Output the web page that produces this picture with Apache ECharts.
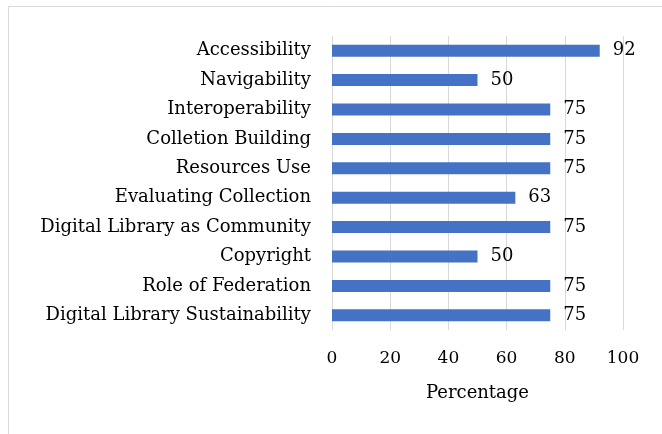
<!DOCTYPE html>
<html><head><meta charset="utf-8">
<script src="https://cdn.jsdelivr.net/npm/echarts@6/dist/echarts.min.js"></script>
<style>html,body{margin:0;padding:0;background:#fff}#c{width:662px;height:434px}</style>
</head><body><div id="c"></div>
<script>
const categories = ["Accessibility","Navigability","Interoperability","Colletion Building","Resources Use","Evaluating Collection","Digital Library as Community","Copyright","Role of Federation","Digital Library Sustainability"];
const values = [92,50,75,75,75,63,75,50,75,75];
const xTicks = [0,20,40,60,80,100];
const axisName = "Percentage";
const font = "'DejaVu Serif', serif";
const chart = echarts.init(document.getElementById('c'));
chart.setOption({
  animation:false,
  graphic:[{type:'rect',shape:{x:8.5,y:6.5,width:700,height:500},style:{fill:'none',stroke:'#d9d9d9',lineWidth:1}}],
  grid:{left:332,top:36,width:291,height:294},
  xAxis:{type:'value',min:xTicks[0],max:xTicks[xTicks.length-1],interval:20,
    axisLine:{show:false},axisTick:{show:false},
    splitLine:{lineStyle:{color:'#d9d9d9',width:1}},
    axisLabel:{fontFamily:font,fontSize:17,color:'#000',margin:20},
    name:axisName,nameLocation:'middle',nameGap:54,
    nameTextStyle:{fontFamily:font,fontSize:18,color:'#000'}},
  yAxis:{type:'category',data:categories,inverse:true,
    axisLine:{show:false},axisTick:{show:false},
    axisLabel:{fontFamily:font,fontSize:18,color:'#000',margin:21}},
  series:[{type:'bar',data:values,barWidth:12,itemStyle:{color:'#4472C4'},
    label:{show:true,position:'right',distance:13,fontFamily:font,fontSize:18,color:'#000'}}]
});
</script></body></html>
